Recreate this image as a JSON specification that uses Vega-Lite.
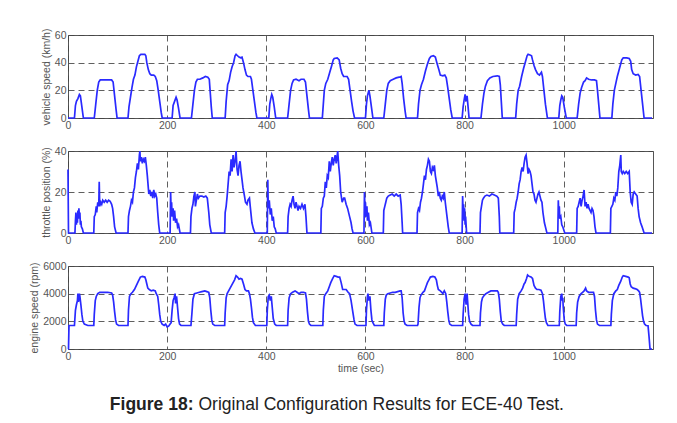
{
"$schema": "https://vega.github.io/schema/vega-lite/v6.json",
"background": "white",
"padding": {"left": 29, "top": 27, "right": 5, "bottom": 0},
"spacing": 14,
"config": {
  "font": "Liberation Sans",
  "view": {"stroke": "#555", "strokeWidth": 1},
  "axis": {"labelFont": "Liberation Sans", "labelFontSize": 10.5, "labelColor": "#555", "titleFont": "Liberation Sans", "titleFontSize": 10.5, "titleFontWeight": "normal", "titleColor": "#555", "domain": false, "ticks": false, "labelPadding": 2, "titlePadding": 3, "grid": true, "gridColor": "#444", "gridDash": [6, 4], "gridWidth": 1, "gridOpacity": 0.85, "labelFlush": false, "labelOverlap": false, "format": "d"},
  "line": {"color": "#2a2aff", "strokeWidth": 1.7}
},
"datasets": {
"speed": [
{"t":0,"v":0},{"t":13,"v":0},{"t":15,"v":9},{"t":17,"v":12},{"t":20,"v":14},{"t":23,"v":17},{"t":25,"v":16},{"t":28,"v":8},{"t":31,"v":0},
{"t":53,"v":0},{"t":56,"v":10},{"t":59,"v":20},{"t":62,"v":26},{"t":65,"v":27.5},{"t":75,"v":27.5},{"t":88,"v":27.5},{"t":91,"v":26},{"t":94,"v":16},{"t":97,"v":6},{"t":99,"v":0},
{"t":121,"v":0},{"t":123,"v":8},{"t":126,"v":15},{"t":129,"v":22},{"t":132,"v":28},{"t":135,"v":31},{"t":138,"v":37},{"t":141,"v":41},{"t":144,"v":45},{"t":147,"v":46},{"t":155,"v":46},{"t":157,"v":45},{"t":159,"v":40},{"t":162,"v":35},{"t":165,"v":32},{"t":168,"v":31},{"t":173,"v":31},{"t":176,"v":30},{"t":179,"v":27},{"t":182,"v":20},{"t":185,"v":12},{"t":188,"v":4},{"t":190,"v":0},
{"t":210,"v":0},{"t":212,"v":9},{"t":215,"v":12},{"t":218,"v":15},{"t":220,"v":13},{"t":223,"v":7},{"t":226,"v":0},
{"t":249,"v":0},{"t":252,"v":10},{"t":255,"v":20},{"t":258,"v":26},{"t":261,"v":28},{"t":266,"v":28},{"t":272,"v":29},{"t":277,"v":30},{"t":282,"v":29.5},{"t":285,"v":28},{"t":287,"v":18},{"t":289,"v":8},{"t":291,"v":0},
{"t":317,"v":0},{"t":319,"v":12},{"t":322,"v":24},{"t":325,"v":27},{"t":328,"v":33},{"t":331,"v":37},{"t":334,"v":40},{"t":337,"v":45},{"t":339,"v":46},{"t":342,"v":45},{"t":345,"v":44},{"t":348,"v":43.5},{"t":351,"v":44},{"t":354,"v":40},{"t":357,"v":35},{"t":360,"v":31},{"t":363,"v":30},{"t":368,"v":30},{"t":370,"v":28},{"t":373,"v":20},{"t":376,"v":12},{"t":379,"v":4},{"t":381,"v":0},
{"t":405,"v":0},{"t":407,"v":10},{"t":409,"v":14},{"t":411,"v":17},{"t":413,"v":15},{"t":416,"v":8},{"t":419,"v":0},
{"t":443,"v":0},{"t":446,"v":10},{"t":449,"v":20},{"t":452,"v":25},{"t":455,"v":27.5},{"t":460,"v":28},{"t":466,"v":27},{"t":470,"v":28},{"t":476,"v":28},{"t":479,"v":26},{"t":482,"v":16},{"t":485,"v":6},{"t":487,"v":0},
{"t":513,"v":0},{"t":515,"v":10},{"t":517,"v":20},{"t":520,"v":25},{"t":524,"v":28},{"t":528,"v":33},{"t":532,"v":38},{"t":535,"v":42},{"t":537,"v":43},{"t":543,"v":43.5},{"t":547,"v":42},{"t":550,"v":36},{"t":553,"v":32},{"t":556,"v":30},{"t":563,"v":30},{"t":566,"v":28},{"t":569,"v":20},{"t":572,"v":12},{"t":575,"v":5},{"t":578,"v":0},
{"t":600,"v":0},{"t":602,"v":10},{"t":604,"v":16},{"t":607,"v":20},{"t":609,"v":16},{"t":612,"v":8},{"t":615,"v":0},
{"t":637,"v":0},{"t":640,"v":10},{"t":643,"v":20},{"t":646,"v":25},{"t":650,"v":27},{"t":656,"v":28},{"t":662,"v":29},{"t":668,"v":29.5},{"t":672,"v":30},{"t":674,"v":25},{"t":677,"v":14},{"t":680,"v":5},{"t":682,"v":0},
{"t":705,"v":0},{"t":707,"v":10},{"t":710,"v":20},{"t":713,"v":24},{"t":717,"v":28},{"t":721,"v":34},{"t":725,"v":39},{"t":729,"v":43},{"t":732,"v":44.5},{"t":737,"v":45},{"t":741,"v":44},{"t":744,"v":40},{"t":748,"v":35},{"t":751,"v":31},{"t":756,"v":30.5},{"t":760,"v":31},{"t":763,"v":29},{"t":766,"v":22},{"t":769,"v":14},{"t":772,"v":6},{"t":775,"v":0},
{"t":795,"v":0},{"t":797,"v":8},{"t":799,"v":13},{"t":801,"v":17},{"t":803,"v":12},{"t":805,"v":16},{"t":807,"v":8},{"t":809,"v":0},
{"t":833,"v":0},{"t":836,"v":10},{"t":839,"v":18},{"t":842,"v":23},{"t":846,"v":27},{"t":851,"v":29},{"t":857,"v":30},{"t":866,"v":30.5},{"t":870,"v":30},{"t":872,"v":24},{"t":874,"v":12},{"t":876,"v":0},
{"t":903,"v":0},{"t":905,"v":10},{"t":908,"v":20},{"t":911,"v":23},{"t":915,"v":30},{"t":919,"v":36},{"t":923,"v":41},{"t":926,"v":45},{"t":928,"v":46},{"t":932,"v":45.5},{"t":935,"v":45},{"t":937,"v":42},{"t":940,"v":38},{"t":943,"v":35},{"t":947,"v":32},{"t":951,"v":31},{"t":955,"v":33},{"t":957,"v":30},{"t":960,"v":20},{"t":963,"v":10},{"t":967,"v":0},
{"t":990,"v":0},{"t":992,"v":9},{"t":994,"v":13},{"t":996,"v":16},{"t":998,"v":15},{"t":1001,"v":8},{"t":1005,"v":0},
{"t":1027,"v":0},{"t":1030,"v":10},{"t":1033,"v":18},{"t":1036,"v":22},{"t":1040,"v":26},{"t":1043,"v":27},{"t":1046,"v":29},{"t":1050,"v":28},{"t":1056,"v":27.5},{"t":1062,"v":27.5},{"t":1066,"v":27},{"t":1068,"v":20},{"t":1071,"v":8},{"t":1073,"v":0},
{"t":1097,"v":0},{"t":1099,"v":10},{"t":1102,"v":20},{"t":1105,"v":25},{"t":1108,"v":30},{"t":1111,"v":34},{"t":1114,"v":38},{"t":1117,"v":42},{"t":1120,"v":43.5},{"t":1127,"v":43.5},{"t":1132,"v":43},{"t":1135,"v":41},{"t":1137,"v":35},{"t":1140,"v":32},{"t":1145,"v":31},{"t":1150,"v":31.5},{"t":1153,"v":30},{"t":1156,"v":20},{"t":1159,"v":10},{"t":1162,"v":0},{"t":1178,"v":0}
],
"throttle": [
{"t":0,"v":31},{"t":1,"v":0},{"t":14,"v":0},{"t":15,"v":6},{"t":16,"v":10},{"t":17,"v":4},{"t":18,"v":9},{"t":19,"v":5},{"t":20,"v":11},{"t":21,"v":7},{"t":22,"v":12},{"t":23,"v":8},{"t":24,"v":10},{"t":25,"v":4},{"t":26,"v":6},{"t":27,"v":3},{"t":29,"v":2},{"t":31,"v":0},
{"t":52,"v":0},{"t":53,"v":8},{"t":55,"v":9},{"t":57,"v":13},{"t":58,"v":10},{"t":60,"v":15},{"t":62,"v":13},{"t":63,"v":25},{"t":64,"v":13},{"t":66,"v":15},{"t":68,"v":14},{"t":70,"v":16},{"t":73,"v":15},{"t":76,"v":16},{"t":79,"v":15},{"t":82,"v":16},{"t":85,"v":15.5},{"t":88,"v":14},{"t":90,"v":12},{"t":92,"v":8},{"t":94,"v":3},{"t":97,"v":0},
{"t":121,"v":0},{"t":122,"v":8},{"t":124,"v":11},{"t":126,"v":13},{"t":128,"v":16},{"t":130,"v":15},{"t":132,"v":20},{"t":134,"v":22},{"t":136,"v":27},{"t":138,"v":30},{"t":140,"v":34},{"t":142,"v":31},{"t":144,"v":38},{"t":145,"v":40},{"t":146,"v":35},{"t":148,"v":37},{"t":150,"v":34},{"t":152,"v":36},{"t":154,"v":35},{"t":156,"v":37},{"t":158,"v":33},{"t":160,"v":28},{"t":162,"v":22},{"t":163,"v":19},{"t":165,"v":21},{"t":167,"v":18},{"t":169,"v":20},{"t":171,"v":17},{"t":173,"v":21},{"t":175,"v":18},{"t":177,"v":19},{"t":179,"v":17},{"t":181,"v":10},{"t":183,"v":4},{"t":185,"v":0},
{"t":206,"v":0},{"t":207,"v":20},{"t":208,"v":11},{"t":209,"v":15},{"t":210,"v":8},{"t":212,"v":12},{"t":213,"v":6},{"t":215,"v":11},{"t":217,"v":5},{"t":219,"v":7},{"t":221,"v":3},{"t":223,"v":4},{"t":226,"v":0},
{"t":247,"v":0},{"t":248,"v":8},{"t":250,"v":12},{"t":252,"v":14},{"t":254,"v":18},{"t":256,"v":20},{"t":257,"v":13},{"t":259,"v":16},{"t":261,"v":19},{"t":263,"v":17},{"t":266,"v":18},{"t":270,"v":18},{"t":274,"v":17.5},{"t":278,"v":18},{"t":281,"v":17},{"t":284,"v":10},{"t":286,"v":4},{"t":289,"v":0},
{"t":316,"v":0},{"t":317,"v":10},{"t":319,"v":13},{"t":321,"v":18},{"t":323,"v":24},{"t":325,"v":30},{"t":327,"v":28},{"t":329,"v":36},{"t":331,"v":30},{"t":333,"v":38},{"t":335,"v":32},{"t":337,"v":35},{"t":339,"v":40},{"t":341,"v":31},{"t":343,"v":28},{"t":345,"v":33},{"t":347,"v":35},{"t":349,"v":30},{"t":351,"v":26},{"t":353,"v":22},{"t":356,"v":18},{"t":358,"v":15},{"t":361,"v":14},{"t":363,"v":16},{"t":366,"v":17},{"t":368,"v":12},{"t":371,"v":5},{"t":374,"v":2},{"t":377,"v":0},
{"t":402,"v":0},{"t":403,"v":26},{"t":404,"v":12},{"t":406,"v":16},{"t":408,"v":9},{"t":410,"v":12},{"t":412,"v":6},{"t":414,"v":8},{"t":416,"v":3},{"t":418,"v":2},{"t":420,"v":0},
{"t":443,"v":0},{"t":444,"v":8},{"t":446,"v":12},{"t":448,"v":14},{"t":450,"v":13},{"t":452,"v":16},{"t":454,"v":18},{"t":456,"v":14},{"t":458,"v":12},{"t":460,"v":15},{"t":462,"v":13},{"t":464,"v":11},{"t":466,"v":13},{"t":469,"v":12},{"t":472,"v":14},{"t":475,"v":12},{"t":478,"v":14},{"t":480,"v":8},{"t":482,"v":0},
{"t":510,"v":0},{"t":511,"v":12},{"t":513,"v":13},{"t":515,"v":17},{"t":517,"v":18},{"t":519,"v":25},{"t":521,"v":22},{"t":523,"v":28},{"t":525,"v":27},{"t":527,"v":35},{"t":529,"v":30},{"t":531,"v":34},{"t":533,"v":37},{"t":535,"v":33},{"t":537,"v":36},{"t":539,"v":38},{"t":541,"v":34},{"t":544,"v":40},{"t":546,"v":33},{"t":548,"v":28},{"t":550,"v":20},{"t":553,"v":15},{"t":556,"v":17},{"t":558,"v":17},{"t":561,"v":14},{"t":564,"v":12},{"t":568,"v":8},{"t":571,"v":5},{"t":573,"v":2},{"t":575,"v":0},
{"t":597,"v":0},{"t":598,"v":20},{"t":599,"v":12},{"t":600,"v":15},{"t":601,"v":8},{"t":603,"v":13},{"t":604,"v":6},{"t":606,"v":10},{"t":608,"v":4},{"t":610,"v":5},{"t":613,"v":0},
{"t":636,"v":0},{"t":637,"v":11},{"t":639,"v":13},{"t":641,"v":15},{"t":643,"v":17},{"t":646,"v":18},{"t":650,"v":18.5},{"t":654,"v":19},{"t":658,"v":18},{"t":662,"v":19},{"t":666,"v":18},{"t":670,"v":18.5},{"t":672,"v":14},{"t":674,"v":5},{"t":675,"v":0},
{"t":704,"v":0},{"t":705,"v":10},{"t":707,"v":12},{"t":709,"v":11},{"t":711,"v":15},{"t":713,"v":17},{"t":715,"v":20},{"t":717,"v":24},{"t":719,"v":28},{"t":721,"v":26},{"t":723,"v":31},{"t":725,"v":33},{"t":727,"v":36},{"t":729,"v":35},{"t":731,"v":30},{"t":733,"v":29},{"t":735,"v":32},{"t":737,"v":31},{"t":739,"v":33},{"t":741,"v":28},{"t":743,"v":25},{"t":745,"v":22},{"t":747,"v":18},{"t":749,"v":20},{"t":751,"v":17},{"t":753,"v":16},{"t":755,"v":18},{"t":757,"v":17},{"t":759,"v":20},{"t":761,"v":15},{"t":764,"v":9},{"t":767,"v":3},{"t":769,"v":0},
{"t":795,"v":0},{"t":796,"v":18},{"t":797,"v":10},{"t":798,"v":14},{"t":799,"v":6},{"t":800,"v":12},{"t":801,"v":4},{"t":802,"v":8},{"t":804,"v":0},
{"t":831,"v":0},{"t":832,"v":10},{"t":834,"v":13},{"t":836,"v":16},{"t":838,"v":17},{"t":841,"v":18},{"t":845,"v":18.5},{"t":850,"v":18},{"t":855,"v":19},{"t":860,"v":18.5},{"t":865,"v":18},{"t":868,"v":17},{"t":870,"v":8},{"t":871,"v":0},
{"t":899,"v":0},{"t":900,"v":10},{"t":902,"v":12},{"t":904,"v":15},{"t":906,"v":17},{"t":908,"v":20},{"t":910,"v":24},{"t":912,"v":26},{"t":914,"v":30},{"t":916,"v":32},{"t":918,"v":30},{"t":920,"v":34},{"t":922,"v":37},{"t":924,"v":38},{"t":926,"v":34},{"t":928,"v":29},{"t":930,"v":31},{"t":932,"v":30},{"t":934,"v":28},{"t":936,"v":24},{"t":938,"v":20},{"t":940,"v":19},{"t":942,"v":16},{"t":944,"v":15},{"t":946,"v":17},{"t":948,"v":19},{"t":950,"v":20},{"t":952,"v":18},{"t":954,"v":16},{"t":956,"v":15},{"t":958,"v":10},{"t":961,"v":5},{"t":964,"v":2},{"t":966,"v":0},
{"t":988,"v":0},{"t":989,"v":16},{"t":990,"v":10},{"t":991,"v":13},{"t":992,"v":7},{"t":994,"v":8},{"t":996,"v":4},{"t":998,"v":3},{"t":1002,"v":0},
{"t":1026,"v":0},{"t":1027,"v":12},{"t":1029,"v":13},{"t":1031,"v":15},{"t":1033,"v":17},{"t":1035,"v":13},{"t":1037,"v":16},{"t":1039,"v":18},{"t":1041,"v":21},{"t":1043,"v":13},{"t":1045,"v":15},{"t":1047,"v":12},{"t":1049,"v":14},{"t":1051,"v":12},{"t":1053,"v":11},{"t":1055,"v":10},{"t":1057,"v":12},{"t":1059,"v":11},{"t":1061,"v":8},{"t":1063,"v":3},{"t":1065,"v":0},
{"t":1094,"v":0},{"t":1095,"v":12},{"t":1097,"v":13},{"t":1099,"v":14},{"t":1101,"v":17},{"t":1103,"v":16},{"t":1105,"v":20},{"t":1107,"v":18},{"t":1109,"v":22},{"t":1111,"v":30},{"t":1113,"v":33},{"t":1115,"v":38},{"t":1116,"v":30},{"t":1118,"v":29},{"t":1120,"v":30},{"t":1123,"v":29},{"t":1126,"v":30},{"t":1129,"v":29},{"t":1132,"v":30},{"t":1134,"v":20},{"t":1136,"v":15},{"t":1138,"v":14},{"t":1140,"v":19},{"t":1142,"v":20},{"t":1145,"v":19},{"t":1148,"v":18},{"t":1150,"v":12},{"t":1152,"v":8},{"t":1155,"v":5},{"t":1158,"v":3},{"t":1162,"v":0},{"t":1178,"v":0}
],
"engine": [
{"t":0,"v":0},{"t":1,"v":0},{"t":2,"v":1700},{"t":13,"v":1700},{"t":15,"v":2800},{"t":17,"v":3200},{"t":19,"v":3500},{"t":20,"v":4000},{"t":21,"v":3400},{"t":22,"v":3600},{"t":23,"v":4000},{"t":24,"v":3800},{"t":26,"v":3200},{"t":28,"v":2500},{"t":30,"v":2000},{"t":33,"v":1800},{"t":40,"v":1700},{"t":52,"v":1700},
{"t":53,"v":2500},{"t":55,"v":3500},{"t":57,"v":3800},{"t":60,"v":4000},{"t":64,"v":4100},{"t":70,"v":4100},{"t":80,"v":4100},{"t":88,"v":4050},{"t":90,"v":3900},{"t":92,"v":3400},{"t":94,"v":2700},{"t":96,"v":2100},{"t":98,"v":1800},{"t":102,"v":1700},{"t":121,"v":1700},
{"t":122,"v":2800},{"t":124,"v":3800},{"t":127,"v":4000},{"t":130,"v":4100},{"t":134,"v":4300},{"t":138,"v":4600},{"t":142,"v":4900},{"t":146,"v":5200},{"t":150,"v":5250},{"t":155,"v":5200},{"t":157,"v":5000},{"t":159,"v":4700},{"t":161,"v":4400},{"t":164,"v":4300},{"t":168,"v":4200},{"t":172,"v":4250},{"t":176,"v":4200},{"t":178,"v":4000},{"t":181,"v":3800},{"t":183,"v":3200},{"t":185,"v":2500},{"t":187,"v":2000},{"t":190,"v":1800},{"t":194,"v":1700},{"t":197,"v":1800},{"t":200,"v":1600},{"t":203,"v":1650},{"t":206,"v":1800},
{"t":208,"v":1900},{"t":210,"v":2800},{"t":212,"v":3500},{"t":214,"v":3700},{"t":216,"v":4000},{"t":217,"v":3300},{"t":219,"v":3800},{"t":221,"v":3000},{"t":223,"v":2200},{"t":225,"v":1800},{"t":228,"v":1700},{"t":248,"v":1700},
{"t":250,"v":2600},{"t":252,"v":3600},{"t":255,"v":4000},{"t":260,"v":4050},{"t":265,"v":4100},{"t":270,"v":4150},{"t":276,"v":4200},{"t":280,"v":4150},{"t":284,"v":4100},{"t":286,"v":3700},{"t":288,"v":2800},{"t":290,"v":2100},{"t":292,"v":1800},{"t":296,"v":1700},{"t":316,"v":1700},
{"t":317,"v":2600},{"t":319,"v":3700},{"t":321,"v":4000},{"t":324,"v":4200},{"t":327,"v":4400},{"t":330,"v":4600},{"t":333,"v":4800},{"t":336,"v":5000},{"t":339,"v":5300},{"t":342,"v":5200},{"t":345,"v":5050},{"t":348,"v":5100},{"t":351,"v":5050},{"t":354,"v":4700},{"t":357,"v":4300},{"t":360,"v":4200},{"t":364,"v":4200},{"t":366,"v":4000},{"t":368,"v":3600},{"t":370,"v":3000},{"t":372,"v":2300},{"t":374,"v":1900},{"t":378,"v":1700},{"t":401,"v":1700},
{"t":402,"v":2800},{"t":404,"v":3800},{"t":406,"v":3900},{"t":408,"v":3500},{"t":410,"v":3800},{"t":412,"v":3000},{"t":414,"v":2200},{"t":417,"v":1800},{"t":420,"v":1700},{"t":443,"v":1700},
{"t":444,"v":2800},{"t":446,"v":3700},{"t":449,"v":4000},{"t":453,"v":4100},{"t":458,"v":4200},{"t":462,"v":4100},{"t":466,"v":4000},{"t":470,"v":4100},{"t":475,"v":4100},{"t":479,"v":4050},{"t":481,"v":3600},{"t":483,"v":2700},{"t":485,"v":2000},{"t":487,"v":1800},{"t":490,"v":1700},{"t":514,"v":1700},
{"t":515,"v":2800},{"t":517,"v":3800},{"t":520,"v":4000},{"t":524,"v":4200},{"t":527,"v":4500},{"t":530,"v":4800},{"t":534,"v":5100},{"t":537,"v":5300},{"t":541,"v":5250},{"t":545,"v":5200},{"t":548,"v":5200},{"t":551,"v":4800},{"t":554,"v":4300},{"t":561,"v":4300},{"t":565,"v":4100},{"t":568,"v":4000},{"t":571,"v":3500},{"t":574,"v":2800},{"t":577,"v":2100},{"t":579,"v":1800},{"t":583,"v":1700},{"t":601,"v":1700},
{"t":602,"v":2800},{"t":604,"v":3800},{"t":605,"v":4000},{"t":607,"v":3500},{"t":609,"v":3800},{"t":611,"v":2800},{"t":613,"v":2100},{"t":615,"v":1900},{"t":618,"v":1700},{"t":637,"v":1700},
{"t":638,"v":2600},{"t":640,"v":3600},{"t":642,"v":3900},{"t":645,"v":4000},{"t":650,"v":4050},{"t":655,"v":4100},{"t":660,"v":4100},{"t":665,"v":4150},{"t":670,"v":4200},{"t":672,"v":4200},{"t":674,"v":3700},{"t":676,"v":2600},{"t":678,"v":2000},{"t":680,"v":1800},{"t":684,"v":1700},{"t":705,"v":1700},
{"t":706,"v":1800},{"t":708,"v":3000},{"t":710,"v":3700},{"t":712,"v":3900},{"t":716,"v":4100},{"t":719,"v":4200},{"t":722,"v":4500},{"t":725,"v":4800},{"t":728,"v":5000},{"t":731,"v":5200},{"t":736,"v":5250},{"t":740,"v":5200},{"t":743,"v":5000},{"t":745,"v":4600},{"t":747,"v":4300},{"t":751,"v":4200},{"t":754,"v":4100},{"t":756,"v":4000},{"t":759,"v":4200},{"t":762,"v":4000},{"t":764,"v":3400},{"t":766,"v":2700},{"t":768,"v":2100},{"t":770,"v":1800},{"t":774,"v":1700},{"t":796,"v":1700},
{"t":797,"v":2500},{"t":799,"v":3600},{"t":801,"v":4000},{"t":803,"v":3200},{"t":804,"v":3700},{"t":805,"v":4000},{"t":806,"v":3500},{"t":808,"v":2500},{"t":810,"v":2000},{"t":813,"v":1800},{"t":816,"v":1700},{"t":831,"v":1700},
{"t":832,"v":2600},{"t":834,"v":3400},{"t":836,"v":3700},{"t":840,"v":3900},{"t":843,"v":4000},{"t":848,"v":4100},{"t":853,"v":4200},{"t":860,"v":4200},{"t":866,"v":4200},{"t":868,"v":4100},{"t":870,"v":3600},{"t":872,"v":2700},{"t":874,"v":2000},{"t":877,"v":1800},{"t":880,"v":1700},{"t":904,"v":1700},
{"t":905,"v":2500},{"t":907,"v":3600},{"t":910,"v":4000},{"t":914,"v":4200},{"t":917,"v":4400},{"t":920,"v":4700},{"t":922,"v":4800},{"t":925,"v":5100},{"t":927,"v":5350},{"t":930,"v":5250},{"t":934,"v":5200},{"t":937,"v":5100},{"t":940,"v":4600},{"t":943,"v":4400},{"t":946,"v":4300},{"t":950,"v":4300},{"t":954,"v":4250},{"t":957,"v":4000},{"t":959,"v":3500},{"t":961,"v":2800},{"t":963,"v":2200},{"t":965,"v":1900},{"t":968,"v":1700},{"t":991,"v":1700},
{"t":992,"v":2700},{"t":994,"v":3800},{"t":996,"v":4000},{"t":997,"v":3500},{"t":998,"v":3700},{"t":999,"v":3000},{"t":1001,"v":2100},{"t":1003,"v":1800},{"t":1006,"v":1700},{"t":1025,"v":1700},
{"t":1026,"v":2600},{"t":1028,"v":3400},{"t":1031,"v":3800},{"t":1035,"v":4000},{"t":1038,"v":4100},{"t":1041,"v":4200},{"t":1044,"v":4400},{"t":1046,"v":4200},{"t":1050,"v":4100},{"t":1055,"v":4100},{"t":1060,"v":4100},{"t":1062,"v":3800},{"t":1064,"v":2800},{"t":1066,"v":2100},{"t":1068,"v":1800},{"t":1072,"v":1700},{"t":1095,"v":1700},
{"t":1096,"v":2500},{"t":1098,"v":3500},{"t":1101,"v":4000},{"t":1105,"v":4200},{"t":1108,"v":4300},{"t":1111,"v":4600},{"t":1115,"v":4900},{"t":1118,"v":5200},{"t":1120,"v":5300},{"t":1125,"v":5250},{"t":1130,"v":5200},{"t":1132,"v":5150},{"t":1134,"v":4700},{"t":1136,"v":4500},{"t":1140,"v":4400},{"t":1145,"v":4350},{"t":1148,"v":4300},{"t":1151,"v":4200},{"t":1153,"v":4100},{"t":1155,"v":3600},{"t":1157,"v":3000},{"t":1159,"v":2400},{"t":1161,"v":2000},{"t":1163,"v":1800},{"t":1166,"v":1700},{"t":1170,"v":1680},{"t":1172,"v":900},{"t":1174,"v":0},{"t":1178,"v":0}
]
},
"vconcat": [
{
  "width": 585, "height": 83,
  "data": {"name": "speed"},
  "mark": {"type": "line"},
  "encoding": {
    "x": {"field": "t", "type": "quantitative", "scale": {"domain": [0, 1180], "nice": false, "zero": false}, "axis": {"values": [0, 200, 400, 600, 800, 1000], "title": null}},
    "y": {"field": "v", "type": "quantitative", "scale": {"domain": [0, 60], "nice": false}, "axis": {"values": [0, 20, 40, 60], "title": "vehicle speed (km/h)"}}
  }
},
{
  "width": 585, "height": 82,
  "data": {"name": "throttle"},
  "mark": {"type": "line"},
  "encoding": {
    "x": {"field": "t", "type": "quantitative", "scale": {"domain": [0, 1180], "nice": false, "zero": false}, "axis": {"values": [0, 200, 400, 600, 800, 1000], "title": null}},
    "y": {"field": "v", "type": "quantitative", "scale": {"domain": [0, 40], "nice": false}, "axis": {"values": [0, 20, 40], "title": "throttle position (%)"}}
  }
},
{
  "width": 585, "height": 83,
  "data": {"name": "engine"},
  "mark": {"type": "line"},
  "encoding": {
    "x": {"field": "t", "type": "quantitative", "scale": {"domain": [0, 1180], "nice": false, "zero": false}, "axis": {"values": [0, 200, 400, 600, 800, 1000], "title": "time (sec)", "titlePadding": 2}},
    "y": {"field": "v", "type": "quantitative", "scale": {"domain": [0, 6000], "nice": false}, "axis": {"values": [0, 2000, 4000, 6000], "title": "engine speed (rpm)"}}
  }
},
{
  "width": 585, "height": 32,
  "view": {"stroke": null},
  "layer": [
    {"data": {"values": [{"c": "Figure 18:"}]}, "mark": {"type": "text", "fontWeight": "bold", "fontSize": 17.5, "align": "right", "dx": -167, "color": "#222", "font": "Liberation Sans"}, "encoding": {"text": {"field": "c"}}},
    {"data": {"values": [{"c": "Original Configuration Results for ECE-40 Test."}]}, "mark": {"type": "text", "fontSize": 17.5, "align": "left", "dx": -162, "color": "#222", "font": "Liberation Sans"}, "encoding": {"text": {"field": "c"}}}
  ]
}
]
}
